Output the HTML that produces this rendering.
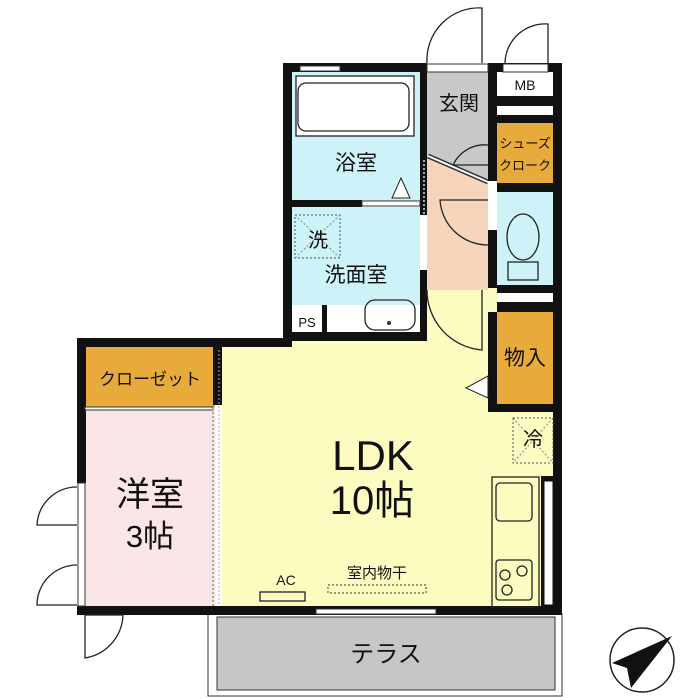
<!DOCTYPE html>
<html><head><meta charset="utf-8"><style>
html,body{margin:0;padding:0;background:#fff;}
svg{display:block;}
text{font-family:"Liberation Sans","Noto Sans CJK JP",sans-serif;fill:#111;}
</style></head><body>
<svg width="700" height="700" viewBox="0 0 700 700" xmlns="http://www.w3.org/2000/svg">
<rect x="208" y="614" width="354" height="82" fill="#fff" stroke="#333" stroke-width="1"/>
<rect x="217" y="617" width="338" height="73" fill="#c6c6c6" stroke="#333" stroke-width="1"/>
<text x="386" y="662" font-size="24" text-anchor="middle">テラス</text>

<rect x="222" y="340" width="331" height="270" fill="#fdfcc0"/>
<rect x="427" y="285" width="70" height="125" fill="#fdfcc0"/>
<rect x="85" y="345" width="130" height="62" fill="#e8aa3a"/>
<rect x="85" y="410" width="130" height="200" fill="#fae6e6"/>
<rect x="292" y="72" width="128" height="130" fill="#cdf2f7"/>
<rect x="292" y="207" width="128" height="100" fill="#cdf2f7"/>
<rect x="292" y="305" width="128" height="28" fill="#fff"/>
<rect x="427" y="72" width="61" height="110" fill="#c8c8c8"/>
<polygon points="427,155 488,180 488,290 427,290" fill="#f6d5bc"/>
<rect x="497" y="72" width="56" height="24" fill="#fff"/>
<rect x="497" y="123" width="56" height="60" fill="#e8aa3a"/>
<rect x="497" y="192" width="56" height="93" fill="#cdf2f7"/>
<rect x="497" y="312" width="56" height="93" fill="#e8aa3a"/>

<g fill="#111">
<rect x="283" y="63" width="144" height="9"/>
<rect x="488" y="63" width="74" height="9"/>
<rect x="283" y="63" width="9" height="280"/>
<rect x="553" y="63" width="9" height="413"/>
<rect x="541" y="476" width="21" height="135"/>
<rect x="283" y="332" width="144" height="9"/>
<rect x="77" y="338" width="215" height="9"/>
<rect x="77" y="338" width="9" height="145"/>
<rect x="77" y="606" width="485" height="9"/>
<rect x="420" y="63" width="7" height="152"/>
<rect x="420" y="270" width="7" height="71"/>
<rect x="488" y="63" width="9" height="118"/>
<rect x="488" y="230" width="9" height="58"/>
<rect x="488" y="312" width="9" height="100"/>
<rect x="488" y="404" width="74" height="8"/>
<rect x="292" y="200" width="70" height="7"/>
<rect x="497" y="96" width="56" height="10"/>
<rect x="497" y="115" width="56" height="8"/>
<rect x="497" y="183" width="56" height="9"/>
<rect x="497" y="285" width="56" height="8"/>
<rect x="497" y="302" width="56" height="10"/>
<rect x="213" y="345" width="9" height="60"/>
<rect x="322" y="305" width="5" height="28"/>
</g>
<rect x="544" y="481" width="9" height="124" fill="#fff" stroke="#111" stroke-width="1"/>
<rect x="300" y="66" width="40" height="5" fill="#fff" stroke="#333" stroke-width="1"/>
<rect x="497" y="106" width="56" height="9" fill="#fff"/>
<rect x="497" y="293" width="56" height="9" fill="#fff"/>
<rect x="427" y="64" width="61" height="8" fill="#fff" stroke="#333" stroke-width="1"/>
<rect x="503" y="64" width="45" height="8" fill="#fff" stroke="#333" stroke-width="1"/>
<rect x="362" y="201" width="58" height="5" fill="#fff" stroke="#333" stroke-width="1"/>
<rect x="78" y="483" width="7" height="123" fill="#fff" stroke="#333" stroke-width="1"/>
<rect x="85" y="407" width="128" height="3" fill="#fff" stroke="#333" stroke-width="1"/>
<rect x="316" y="609" width="120" height="5" fill="#fff" stroke="#333" stroke-width="1"/>
<line x1="213" y1="408" x2="213" y2="606" stroke="#aaa" stroke-width="2" stroke-dasharray="2,2"/>
<line x1="219" y1="350" x2="219" y2="606" stroke="#aaa" stroke-width="1" stroke-dasharray="2,2"/>
<line x1="424" y1="160" x2="424" y2="215" stroke="#aaa" stroke-width="2" stroke-dasharray="2,2"/>
<line x1="428" y1="156" x2="488" y2="182" stroke="#333" stroke-width="5"/>
<line x1="428" y1="156" x2="488" y2="182" stroke="#fff" stroke-width="2"/>

<rect x="296" y="76" width="118" height="60" fill="#fff" stroke="#222" stroke-width="1.3"/>
<g fill="none" stroke="#222" stroke-width="1.3">
<path d="M427,63 A52,52 0 0 1 482,8 L482,63"/>
<path d="M505,63 A40,40 0 0 1 548,24 L548,63"/>
<path d="M488,145 A35,35 0 0 0 453,165 L488,165"/>
<path d="M488,245 A48,48 0 0 1 440,200 L488,200"/>
<path d="M427,290 A60,60 0 0 0 482,350 L482,290"/>
<path d="M77,487 A40,40 0 0 0 37,525 L77,525"/>
<path d="M77,565 A40,40 0 0 0 37,605 L77,605"/>
<path d="M85,615 L85,658 A45,45 0 0 0 123,615 Z"/>
<path d="M306,83 h95 a8,8 0 0 1 8,8 v32 a8,8 0 0 1 -8,8 h-95 a8,8 0 0 1 -8,-8 v-32 a8,8 0 0 1 8,-8 z"/>
<path d="M375,300 h30 a10,10 0 0 1 10,10 v10 a10,10 0 0 1 -10,10 h-30 a10,10 0 0 1 -10,-10 v-10 a10,10 0 0 1 10,-10z"/>
<ellipse cx="523" cy="237" rx="16" ry="23"/>
<rect x="508" y="262" width="30" height="18"/>
<rect x="492" y="477" width="47" height="130"/>
<rect x="496" y="483" width="36" height="38" rx="4"/>
<rect x="496" y="560" width="36" height="40" rx="3"/>
<circle cx="505" cy="575" r="5"/><circle cx="522" cy="571" r="5"/><circle cx="507" cy="590" r="5"/>
<rect x="260" y="592" width="45" height="9"/>
</g>
<polygon points="392,198 410,198 401,178" fill="#fff" stroke="#222"/>
<polygon points="488,376 488,398 466,388" fill="#fff" stroke="#222"/>
<circle cx="389" cy="323" r="2" fill="#333"/>
<rect x="295" y="215" width="45" height="43" fill="none" stroke="#555" stroke-dasharray="2,2"/>
<line x1="295" y1="215" x2="340" y2="258" stroke="#888" stroke-dasharray="2,2"/>
<line x1="340" y1="215" x2="295" y2="258" stroke="#888" stroke-dasharray="2,2"/>
<rect x="513" y="418" width="40" height="45" fill="none" stroke="#555" stroke-dasharray="2,2"/>
<line x1="513" y1="418" x2="553" y2="463" stroke="#888" stroke-dasharray="2,2"/>
<line x1="553" y1="418" x2="513" y2="463" stroke="#888" stroke-dasharray="2,2"/>
<rect x="328" y="585" width="98" height="8" fill="none" stroke="#333" stroke-dasharray="2,2"/>

<text x="459" y="110" font-size="20" text-anchor="middle">玄関</text>
<text x="525" y="90" font-size="14" text-anchor="middle">MB</text>
<text x="525" y="148" font-size="13" text-anchor="middle">シューズ</text>
<text x="525" y="170" font-size="13" text-anchor="middle">クローク</text>
<text x="356" y="170" font-size="21" text-anchor="middle">浴室</text>
<text x="318" y="247" font-size="20" text-anchor="middle">洗</text>
<text x="356" y="282" font-size="21" text-anchor="middle">洗面室</text>
<text x="307" y="327" font-size="13" text-anchor="middle">PS</text>
<text x="525" y="365" font-size="21" text-anchor="middle">物入</text>
<text x="533" y="446" font-size="20" text-anchor="middle">冷</text>
<text x="150" y="385" font-size="17" text-anchor="middle">クローゼット</text>
<text x="150" y="506" font-size="34" text-anchor="middle">洋室</text>
<text x="150" y="547" font-size="31" text-anchor="middle">3帖</text>
<text x="373" y="470" font-size="42" text-anchor="middle">LDK</text>
<text x="372" y="514" font-size="40" text-anchor="middle">10帖</text>
<text x="286" y="585" font-size="14" text-anchor="middle">AC</text>
<text x="377" y="578" font-size="15" text-anchor="middle">室内物干</text>

<circle cx="642" cy="660" r="32" fill="#fff" stroke="#222" stroke-width="1.5"/>
<polygon points="672,636 612,663 627,668 631,688" fill="#111"/>
</svg>
</body></html>
